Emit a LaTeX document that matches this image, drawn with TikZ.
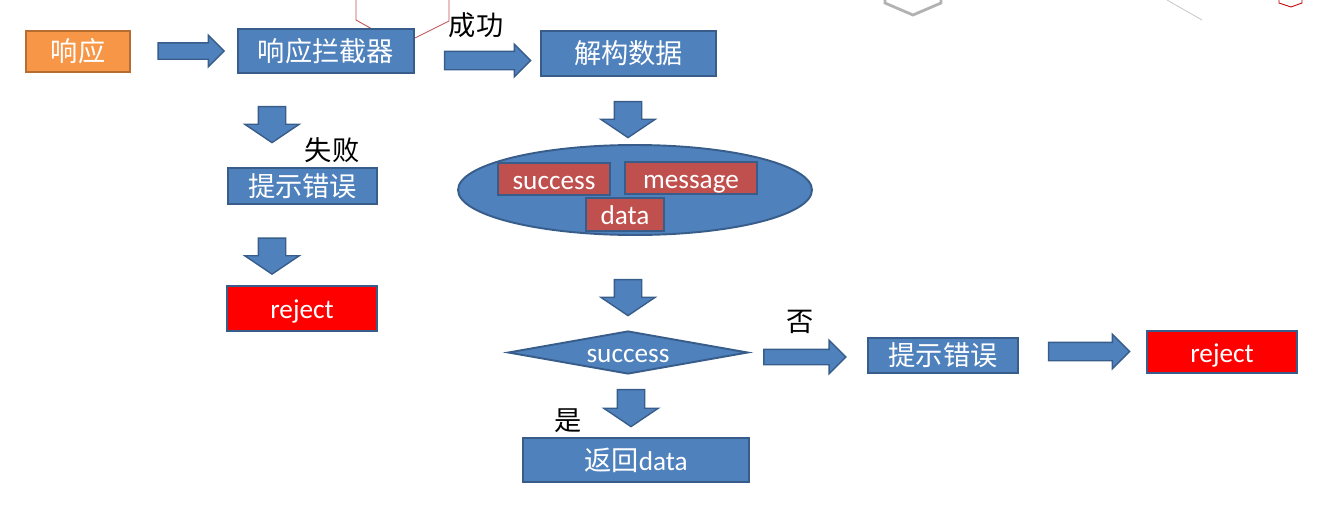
\documentclass[tikz,border=0pt]{standalone}
\usepackage{fontspec}
\setmainfont{Carlito}
\newfontfamily\cjk{Noto Sans CJK SC}
\usetikzlibrary{shapes.geometric,shapes.arrows}
\definecolor{boxblue}{HTML}{4F81BD}
\definecolor{boxline}{HTML}{385D8A}
\definecolor{respfill}{HTML}{F79646}
\definecolor{respline}{HTML}{B66D31}
\definecolor{fieldred}{HTML}{C0504D}

\begin{document}
\begin{tikzpicture}[x=0.02cm,y=-0.02cm,
    box/.style={draw=boxline,fill=boxblue,line width=1.1pt,text=white,inner sep=0pt,
                font=\fontsize{15.5}{18}\selectfont},
    cnbox/.style={box,font=\cjk\fontsize{15.5}{18}\selectfont},
    latin/.style={text height=13pt,text depth=1.4pt},
    field/.style={box,latin,fill=fieldred},
    rjbox/.style={box,latin,fill=red},
    note/.style={font=\cjk\fontsize{15.5}{18}\selectfont,inner sep=0pt},
    harrow/.style={single arrow,draw=boxline,fill=boxblue,line width=0.8pt,inner sep=0pt,
                   single arrow tip angle=90},
    varrow/.style={harrow,rotate=-90,inner ysep=0.26cm,single arrow head extend=0.27cm,
                   single arrow tip angle=112,minimum height=0.72cm}]
  \useasboundingbox (0,0) rectangle (1325,518);
  % leftovers at the top edge
  \draw[fieldred,line width=0.5pt] (356,0) -- (356,20) -- (372,29);
  \draw[fieldred,line width=0.5pt] (449,0) -- (449,21) -- (415,38);
  \draw[black!30,line width=1.6pt] (885,0) -- (885,3) -- (913,15) -- (941,3) -- (941,0);
  \draw[black!20,line width=0.5pt] (1167,0) -- (1202,20);
  \draw[red!75!black,line width=0.5pt] (1279,0) -- (1279,3) -- (1291,7) -- (1302,3) -- (1302,0);

  \node[cnbox,fill=respfill,draw=respline,minimum width=2.08cm,minimum height=0.82cm] (resp) at (78,51.5) {响应};
  \node[cnbox,minimum width=3.52cm,minimum height=0.88cm] (icpt) at (326,51) {响应拦截器};
  \node[cnbox,minimum width=3.5cm,minimum height=0.9cm] (parse) at (628.5,53.5) {解构数据};
  \node[cnbox,minimum width=2.98cm,minimum height=0.72cm] (errL) at (302.5,186) {提示错误};
  \node[rjbox,minimum width=3cm,minimum height=0.9cm] (rejL) at (302,308.5) {reject};

  \node[ellipse,draw=boxline,fill=boxblue,line width=1.1pt,minimum width=7.08cm,
        minimum height=1.8cm] (info) at (635,190) {};
  \node[field,minimum width=2.24cm,minimum height=0.64cm] (fsucc) at (554,179) {success};
  \node[field,minimum width=2.64cm,minimum height=0.64cm] (fmsg) at (691,178) {message};
  \node[field,minimum width=1.56cm,minimum height=0.66cm] (fdata) at (625,214.5) {data};

  \node[box,latin,diamond,aspect=5.6,minimum width=4.8cm,minimum height=0.86cm] (check) at (628,352.5) {success};
  \node[cnbox,minimum width=3cm,minimum height=0.7cm] (errR) at (943,355.5) {提示错误};
  \node[rjbox,minimum width=3cm,minimum height=0.84cm] (rejR) at (1222,352) {reject};
  \node[box,minimum width=4.52cm,minimum height=0.88cm] (ret) at (636,460) {{\cjk 返回}data};

  % block arrows
  \node[harrow,inner ysep=0.15cm,single arrow head extend=0.15cm,minimum height=1.32cm] (a1) at (187,51) {};
  \node[harrow,inner ysep=0.17cm,single arrow head extend=0.14cm,minimum height=1.72cm] (aok) at (483,60.5) {};
  \node[harrow,inner ysep=0.14cm,single arrow head extend=0.18cm,minimum height=1.64cm] (ano) at (801,357) {};
  \node[harrow,inner ysep=0.17cm,single arrow head extend=0.16cm,minimum height=1.62cm] (afin) at (1084.5,351.5) {};
  \node[varrow] (d1) at (272,120) {};
  \node[varrow] (d2) at (272,251.5) {};
  \node[varrow] (d3) at (628,115) {};
  \node[varrow] (d4) at (628,293) {};
  \node[varrow,minimum height=0.74cm] (d5) at (631,403.5) {};

  \node[note] (lok) at (476,25) {成功};
  \node[note] (lfail) at (332,150) {失败};
  \node[note] (lno) at (800,322) {否};
  \node[note] (lyes) at (568,421) {是};
\end{tikzpicture}
\end{document}
